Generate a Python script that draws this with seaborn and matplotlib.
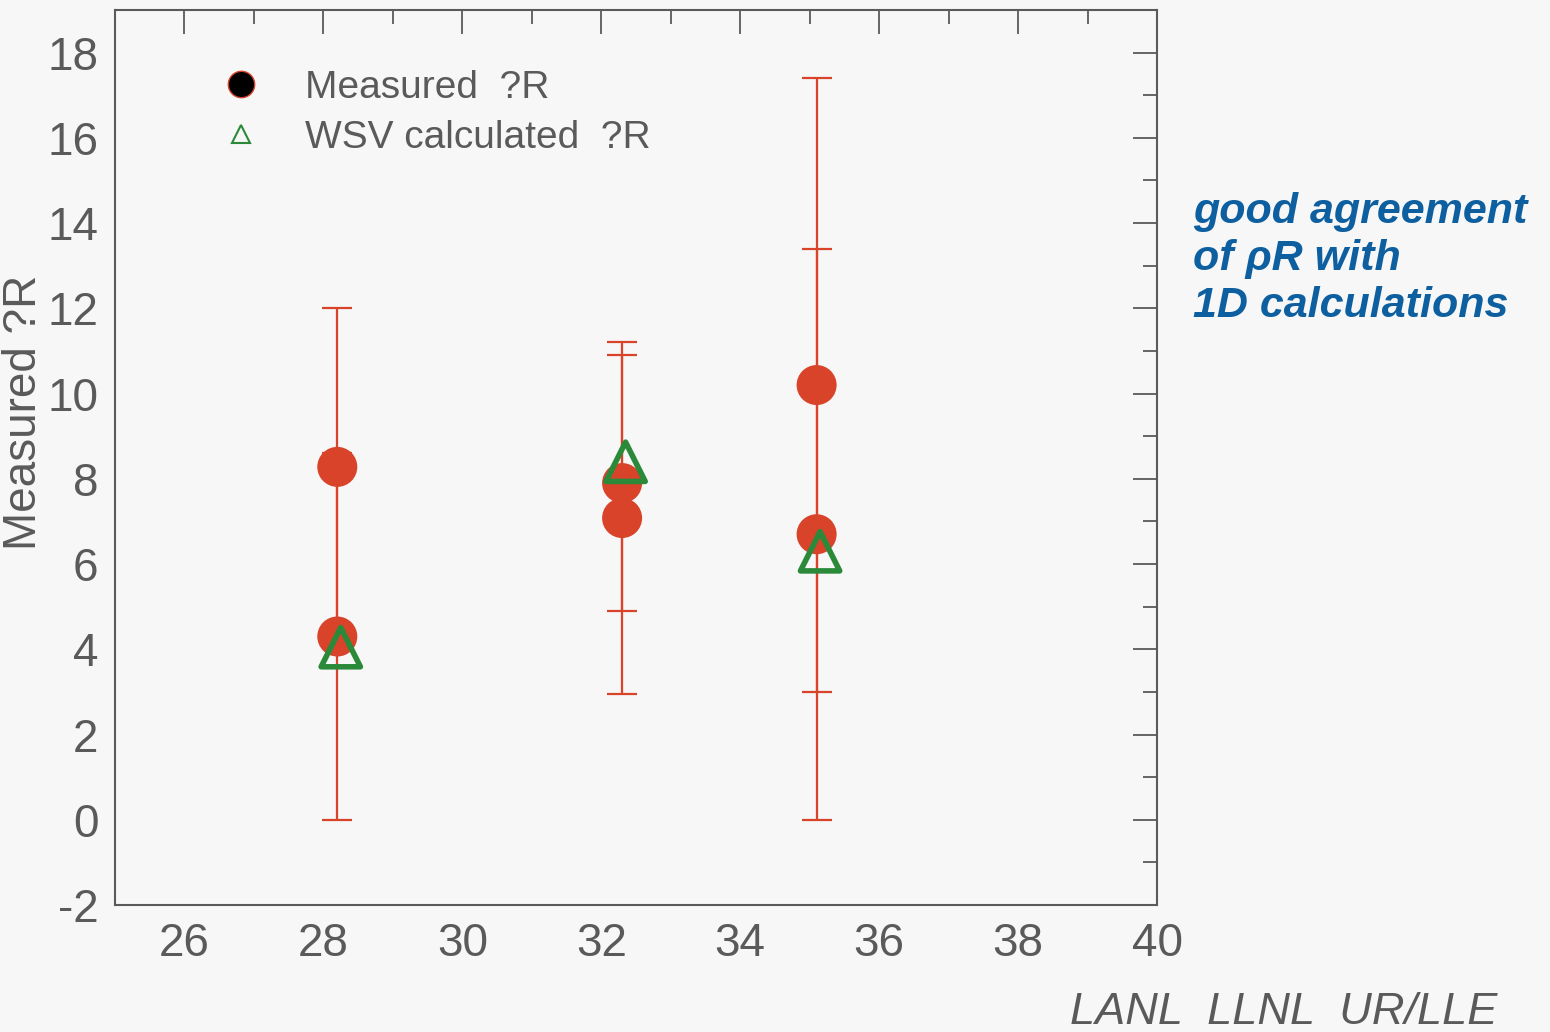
import matplotlib
matplotlib.use("Agg")
import matplotlib.pyplot as plt
import seaborn as sns
import pandas as pd
import numpy as np
from matplotlib.ticker import MultipleLocator
from matplotlib.lines import Line2D

# ---- data ----
meas_x = [28.2, 28.2, 32.3, 32.3, 35.1, 35.1]
meas_y = [8.28, 4.3, 7.9, 7.08, 10.2, 6.7]
meas_err = [3.72, 4.3, 3.0, 4.12, 7.2, 6.7]

calc_x = [28.25, 32.35, 35.15]
calc_y = [4.05, 8.4, 6.3]

xticks = [26, 28, 30, 32, 34, 36, 38, 40]
yticks = [-2, 0, 2, 4, 6, 8, 10, 12, 14, 16, 18]

sns.set_theme(style="white")
plt.rcParams['font.family'] = ['Liberation Sans', 'DejaVu Sans']
plt.rcParams['axes.unicode_minus'] = False

bg = "#f7f7f7"
gray = "#5a5a5a"
red = "#d8432a"
green = "#2a8a3a"

fig = plt.figure(figsize=(15.5, 10.32), dpi=100, facecolor=bg)
ax = fig.add_axes([115/1550, 1-905/1032, (1157-115)/1550, (905-10)/1032])
ax.set_facecolor(bg)

meas = pd.DataFrame({"x": meas_x, "y": meas_y, "err": meas_err})
calc = pd.DataFrame({"x": calc_x, "y": calc_y})

ax.errorbar(meas["x"], meas["y"], yerr=meas["err"], fmt="none",
            ecolor=red, elinewidth=1.6, capsize=11, capthick=1.6, zorder=2)
sns.scatterplot(data=meas, x="x", y="y", ax=ax, s=830, color=red,
                edgecolor="none", zorder=3, legend=False)
sns.scatterplot(data=calc, x="x", y="y", ax=ax, s=800, marker="^",
                facecolor="none", edgecolor=green, linewidth=4, zorder=4,
                legend=False)

ax.set_xlim(25, 40)
ax.set_ylim(-2, 19)
ax.set_xticks(xticks)
ax.set_yticks(yticks)
ax.xaxis.set_minor_locator(MultipleLocator(1))
ax.yaxis.set_minor_locator(MultipleLocator(1))
ax.tick_params(axis="both", which="major", direction="in", length=17, width=1.3,
               color=gray, top=True, right=True, labelsize=33, labelcolor=gray, pad=12)
ax.tick_params(axis="both", which="minor", direction="in", length=10, width=1.3,
               color=gray, top=True, right=True)
ax.tick_params(axis="x", which="major", pad=12)
for s in ax.spines.values():
    s.set_color(gray)
    s.set_linewidth(1.5)

ax.set_xlabel("")
ax.set_ylabel("Measured ?R", fontsize=33, color=gray)
ax.yaxis.set_label_coords(-0.066, 0.55)

handles = [
    Line2D([], [], linestyle="none", marker="o", markersize=19,
           markerfacecolor="black", markeredgecolor=red, markeredgewidth=1),
    Line2D([], [], linestyle="none", marker="^", markersize=13,
           markerfacecolor="none", markeredgecolor=green, markeredgewidth=1.5),
]
leg = ax.legend(handles, ["Measured  ?R", "WSV calculated  ?R"], loc="upper left",
                bbox_to_anchor=(0.05, 0.972), frameon=False, fontsize=28,
                handletextpad=0.65, labelspacing=0.35, labelcolor=gray)

fig.text(1193/1550, 1-259/1032, "good agreement\nof ρR with\n1D calculations",
         fontsize=31, color="#0d5fa0", fontweight="bold", fontstyle="italic",
         va="center", ha="left", linespacing=1.22)
fig.text(1070/1550, 1-1013/1032, "LANL  LLNL  UR/LLE", fontsize=32.5, color=gray,
         fontstyle="italic", va="center", ha="left")

fig.savefig("out.png", dpi=100, facecolor=bg)
